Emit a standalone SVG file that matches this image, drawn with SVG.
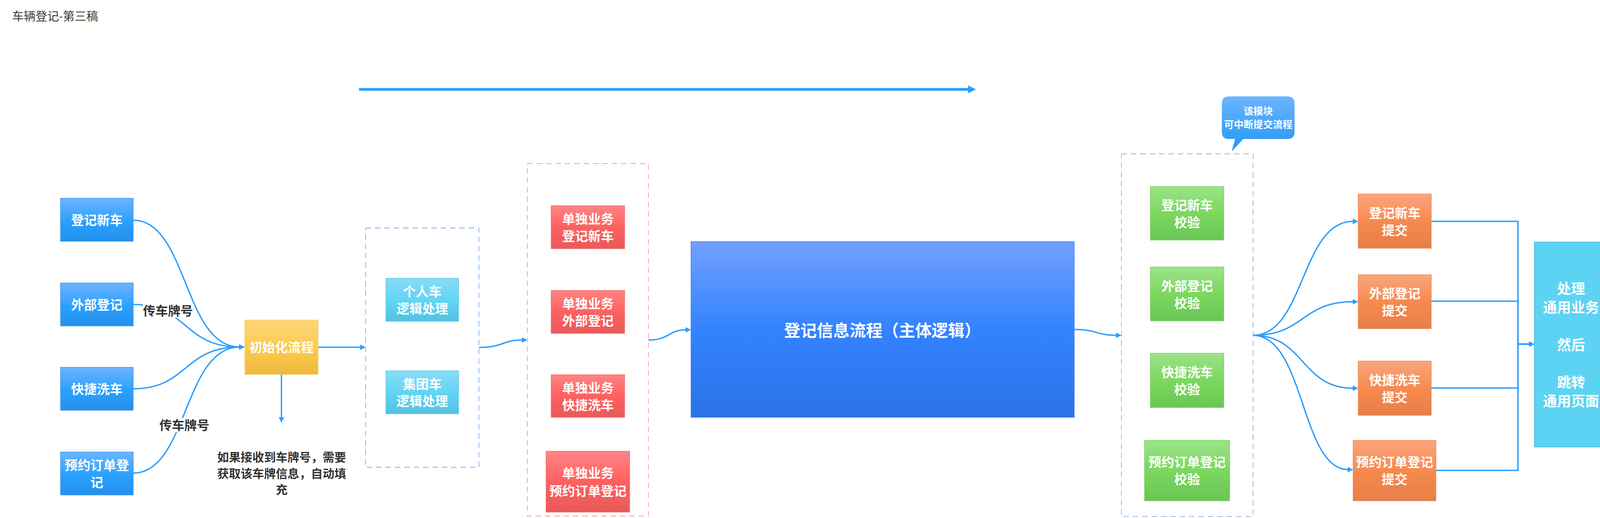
<svg xmlns="http://www.w3.org/2000/svg" width="4117" height="1327" viewBox="0 0 4117 1327">
<style>
.t{font-family:'Liberation Sans','Noto Sans CJK SC',sans-serif;font-weight:bold;fill:#fff;text-anchor:middle}
.f33{font-size:33px}
.f25{font-size:25px}
.f36{font-size:36px}
.f42{font-size:42px}
.d{font-family:'Liberation Sans','Noto Sans CJK SC',sans-serif;font-weight:bold;fill:#333;text-anchor:middle}
.c{fill:none;stroke:#2A9EFF;stroke-width:3.5;marker-end:url(#ah)}
.box{stroke-width:1.5}
.dash{fill:none;stroke-width:1.8;stroke-dasharray:14 10}
</style>
<defs>
<linearGradient id="gBlue" x1="0" y1="0" x2="0" y2="1"><stop offset="0" stop-color="#6CB4FF"/><stop offset="0.55" stop-color="#2AA0FF"/><stop offset="1" stop-color="#2390EB"/></linearGradient>
<linearGradient id="gYellow" x1="0" y1="0" x2="0" y2="1"><stop offset="0" stop-color="#FDD67C"/><stop offset="0.5" stop-color="#FDCB4E"/><stop offset="1" stop-color="#ECB93E"/></linearGradient>
<linearGradient id="gCyan" x1="0" y1="0" x2="0" y2="1"><stop offset="0" stop-color="#88DCF6"/><stop offset="0.55" stop-color="#5ED4F4"/><stop offset="1" stop-color="#55C0E0"/></linearGradient>
<linearGradient id="gRed" x1="0" y1="0" x2="0" y2="1"><stop offset="0" stop-color="#FF8585"/><stop offset="0.5" stop-color="#FF6060"/><stop offset="1" stop-color="#E85A5A"/></linearGradient>
<linearGradient id="gBig" x1="0" y1="0" x2="0" y2="1"><stop offset="0" stop-color="#739FFF"/><stop offset="0.5" stop-color="#3383FF"/><stop offset="1" stop-color="#2B72E6"/></linearGradient>
<linearGradient id="gGreen" x1="0" y1="0" x2="0" y2="1"><stop offset="0" stop-color="#9BE388"/><stop offset="0.55" stop-color="#79D65C"/><stop offset="1" stop-color="#6BC556"/></linearGradient>
<linearGradient id="gOrange" x1="0" y1="0" x2="0" y2="1"><stop offset="0" stop-color="#FBA57E"/><stop offset="0.55" stop-color="#F6884C"/><stop offset="1" stop-color="#E67F4A"/></linearGradient>
<linearGradient id="gCall" x1="0" y1="0" x2="0" y2="1"><stop offset="0" stop-color="#6DB5FF"/><stop offset="1" stop-color="#2196F3"/></linearGradient>
<marker id="ah" markerUnits="userSpaceOnUse" viewBox="0 0 14 14" refX="1" refY="7" markerWidth="14" markerHeight="14" orient="auto"><path d="M0,0 L14,7 L0,14 z" fill="#2A9EFF"/></marker>
<marker id="ahBig" markerUnits="userSpaceOnUse" viewBox="0 0 21 20" refX="1" refY="10" markerWidth="21" markerHeight="20" orient="auto"><path d="M0,0 L21,10 L0,20 z" fill="#26A0FF"/></marker>
</defs>
<rect width="4117" height="1327" fill="#fff"/>
<text x="31" y="52" font-family="'Liberation Sans','Noto Sans CJK SC',sans-serif" font-size="30" fill="#3a3a3a">车辆登记-第三稿</text>

<g id="groups">
<rect id="grp-car" class="dash" x="936" y="584" width="290" height="613" stroke="#7FB0F0"/>
<rect id="grp-single" class="dash" x="1350" y="419" width="310" height="903" stroke="#F2A0A0"/>
<rect id="grp-check" class="dash" x="2871" y="394" width="337" height="929" stroke="#8AB6F4"/>
</g>

<g id="connectors">
<path d="M919,229 H2479" fill="none" stroke="#26A0FF" stroke-width="7" marker-end="url(#ahBig)"/>
<path class="c" d="M341,564 C480,564 470,889 613,889"/>
<path class="c" d="M341,780 C480,780 470,889 613,889"/>
<path class="c" d="M341,996 C480,996 470,889 613,889"/>
<path class="c" d="M341,1212 C480,1212 470,889 613,889"/>
<path class="c" d="M814,889.5 H923"/>
<path class="c" d="M720.5,959 V1070"/>
<path class="c" d="M1226,890 C1290,890 1285,871 1337,871"/>
<path class="c" d="M1660,871 C1715,871 1710,845 1756,845"/>
<path class="c" d="M2750,844 C2810,844 2805,859 2858,859"/>
<path class="c" d="M3208,859 C3340,859 3330,567 3464,567"/>
<path class="c" d="M3208,859 C3340,859 3330,773 3464,773"/>
<path class="c" d="M3208,859 C3340,859 3330,994.5 3464,994.5"/>
<path class="c" d="M3208,859 C3340,859 3330,1203 3451,1203"/>
<path class="c" d="M3664,567 H3886 V881.5 H3915"/>
<path class="c" d="M3664,771.5 H3886 V881.5 H3915"/>
<path class="c" d="M3664,994 H3886 V881.5 H3915"/>
<path class="c" d="M3676,1205 H3886 V881.5 H3915"/>
<g id="label-1"><rect x="366" y="778" width="128" height="36" fill="#fff"/><text class="d" x="430" y="808" font-size="32">传车牌号</text></g>
<g id="label-2"><rect x="406" y="1071" width="132" height="36" fill="#fff"/><text class="d" x="472" y="1101" font-size="32">传车牌号</text></g>
</g>

<g id="n-new"><rect class="box" x="155" y="508" width="186" height="110" fill="url(#gBlue)" stroke="#3D95E6"/><text class="t f33" x="248" y="576">登记新车</text></g>
<g id="n-ext"><rect class="box" x="155" y="725" width="186" height="110" fill="url(#gBlue)" stroke="#3D95E6"/><text class="t f33" x="248" y="793">外部登记</text></g>
<g id="n-wash"><rect class="box" x="155" y="941" width="186" height="110" fill="url(#gBlue)" stroke="#3D95E6"/><text class="t f33" x="248" y="1009">快捷洗车</text></g>
<g id="n-order"><rect class="box" x="155" y="1158" width="186" height="110" fill="url(#gBlue)" stroke="#3D95E6"/><text class="t f33" x="248" y="1204">预约订单登</text><text class="t f33" x="248" y="1248">记</text></g>

<g id="n-init"><rect class="box" x="627" y="820" width="187" height="139" fill="url(#gYellow)" stroke="#F7C845"/><text class="t f33" x="720.5" y="902">初始化流程</text></g>
<g id="n-note"><text class="d" font-size="30" x="721" y="1182">如果接收到车牌号，需要</text><text class="d" font-size="30" x="721" y="1224">获取该车牌信息，自动填</text><text class="d" font-size="30" x="721" y="1265">充</text></g>

<g id="n-personal"><rect class="box" x="988" y="713" width="186" height="110" fill="url(#gCyan)" stroke="#5CC8EA"/><text class="t f33" x="1081" y="759">个人车</text><text class="t f33" x="1081" y="803">逻辑处理</text></g>
<g id="n-group"><rect class="box" x="988" y="950" width="186" height="110" fill="url(#gCyan)" stroke="#5CC8EA"/><text class="t f33" x="1081" y="996">集团车</text><text class="t f33" x="1081" y="1040">逻辑处理</text></g>

<g id="n-s-new"><rect class="box" x="1411" y="527" width="188" height="110" fill="url(#gRed)" stroke="#F56A6A"/><text class="t f33" x="1505" y="573">单独业务</text><text class="t f33" x="1505" y="617">登记新车</text></g>
<g id="n-s-ext"><rect class="box" x="1411" y="744" width="188" height="110" fill="url(#gRed)" stroke="#F56A6A"/><text class="t f33" x="1505" y="790">单独业务</text><text class="t f33" x="1505" y="834">外部登记</text></g>
<g id="n-s-wash"><rect class="box" x="1411" y="960" width="188" height="109" fill="url(#gRed)" stroke="#F56A6A"/><text class="t f33" x="1505" y="1006">单独业务</text><text class="t f33" x="1505" y="1050">快捷洗车</text></g>
<g id="n-s-order"><rect class="box" x="1398" y="1156" width="214" height="156" fill="url(#gRed)" stroke="#F56A6A"/><text class="t f33" x="1505" y="1224">单独业务</text><text class="t f33" x="1505" y="1270">预约订单登记</text></g>

<g id="n-main"><rect class="box" x="1769" y="619" width="981" height="450" fill="url(#gBig)" stroke="#3E80F2"/><text class="t f42" x="2259" y="862">登记信息流程（主体逻辑）</text></g>

<g id="n-callout"><path d="M3146,247 H3296 Q3314,247 3314,265 V338 Q3314,356 3296,356 H3183 L3153,388 L3162,356 H3146 Q3128,356 3128,338 V265 Q3128,247 3146,247 z" fill="url(#gCall)"/><text class="t f25" x="3221" y="294">该模块</text><text class="t f25" x="3221" y="328">可中断提交流程</text></g>

<g id="n-c-new"><rect class="box" x="2945" y="478" width="188" height="137" fill="url(#gGreen)" stroke="#7BD165"/><text class="t f33" x="3039" y="538">登记新车</text><text class="t f33" x="3039" y="582">校验</text></g>
<g id="n-c-ext"><rect class="box" x="2945" y="684" width="188" height="138" fill="url(#gGreen)" stroke="#7BD165"/><text class="t f33" x="3039" y="745">外部登记</text><text class="t f33" x="3039" y="789">校验</text></g>
<g id="n-c-wash"><rect class="box" x="2945" y="905" width="188" height="139" fill="url(#gGreen)" stroke="#7BD165"/><text class="t f33" x="3039" y="966">快捷洗车</text><text class="t f33" x="3039" y="1010">校验</text></g>
<g id="n-c-order"><rect class="box" x="2930" y="1128" width="218" height="155" fill="url(#gGreen)" stroke="#7BD165"/><text class="t f33" x="3039" y="1196">预约订单登记</text><text class="t f33" x="3039" y="1240">校验</text></g>

<g id="n-p-new"><rect class="box" x="3477" y="497" width="187" height="139" fill="url(#gOrange)" stroke="#F08A58"/><text class="t f33" x="3570.5" y="558">登记新车</text><text class="t f33" x="3570.5" y="602">提交</text></g>
<g id="n-p-ext"><rect class="box" x="3477" y="704" width="187" height="138" fill="url(#gOrange)" stroke="#F08A58"/><text class="t f33" x="3570.5" y="764">外部登记</text><text class="t f33" x="3570.5" y="808">提交</text></g>
<g id="n-p-wash"><rect class="box" x="3477" y="925" width="187" height="139" fill="url(#gOrange)" stroke="#F08A58"/><text class="t f33" x="3570.5" y="986">快捷洗车</text><text class="t f33" x="3570.5" y="1030">提交</text></g>
<g id="n-p-order"><rect class="box" x="3464" y="1128" width="212" height="155" fill="url(#gOrange)" stroke="#F08A58"/><text class="t f33" x="3570" y="1196">预约订单登记</text><text class="t f33" x="3570" y="1240">提交</text></g>

<g id="n-common"><rect x="3928" y="620" width="188" height="525" fill="#5DD3F3" stroke="#45AFCF" stroke-width="1.5"/>
<text class="t f36" x="4022" y="753">处理</text>
<text class="t f36" x="4022" y="801">通用业务</text>
<text class="t f36" x="4022" y="897">然后</text>
<text class="t f36" x="4022" y="993">跳转</text>
<text class="t f36" x="4022" y="1041">通用页面</text>
</g>
</svg>
